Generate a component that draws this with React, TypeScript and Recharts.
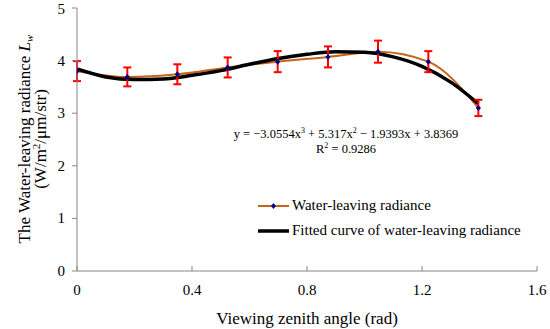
import React from 'react';
import {
  ComposedChart,
  Line,
  XAxis,
  YAxis,
  ErrorBar,
  Label,
} from 'recharts';

// viewing zenith angles (rad) and measured radiance
const angles = [0, 0.175, 0.349, 0.524, 0.698, 0.873, 1.047, 1.222, 1.396];
const radiance = [3.8, 3.69, 3.74, 3.87, 3.98, 4.07, 4.17, 3.98, 3.1];
const radianceErr = [0.19, 0.18, 0.19, 0.19, 0.2, 0.2, 0.21, 0.2, 0.155];

// fitted cubic curve
const fitAngles = [0, 0.1, 0.2, 0.3, 0.4, 0.5, 0.6, 0.7, 0.8, 0.9, 1.0, 1.1, 1.2, 1.3, 1.396];
const fitValues = [3.84, 3.69, 3.64, 3.65, 3.72, 3.81, 3.93, 4.04, 4.12, 4.17, 4.16, 4.07, 3.89, 3.59, 3.18];

const xTicks = [0, 0.4, 0.8, 1.2, 1.6];
const yTicks = [0, 1, 2, 3, 4, 5];

const measured = angles.map((a, i) => ({ x: a, y: radiance[i], err: radianceErr[i] }));
const fitted = fitAngles.map((a, i) => ({ x: a, fit: fitValues[i] }));

const FONT = 'Liberation Serif, serif';
const AXIS = '#868686';
const ORANGE = '#C8631A';

const Diamond = (props: any) => {
  const { cx, cy } = props;
  if (cx == null || cy == null) return null;
  return <path d={`M${cx},${cy - 3}L${cx + 2.6},${cy}L${cx},${cy + 3}L${cx - 2.6},${cy}Z`} fill="#00008B" />;
};

const XTick = (props: any) => {
  const { x, payload } = props;
  return (
    <text x={x} y={295} textAnchor="middle" fontFamily={FONT} fontSize={15} fill="#000">
      {String(payload.value)}
    </text>
  );
};

const YTick = (props: any) => {
  const { y, payload } = props;
  return (
    <text x={65} y={y + 5} textAnchor="end" fontFamily={FONT} fontSize={15} fill="#000">
      {String(payload.value)}
    </text>
  );
};

const YTitle = () => {
  const cy = 139;
  return (
    <g fontFamily={FONT} fontSize={17} fill="#000">
      <text x={30} y={cy} transform={`rotate(-90 30 ${cy})`} textAnchor="middle">
        The Water-leaving radiance <tspan fontStyle="italic">L</tspan>
        <tspan fontStyle="italic" fontSize={11} dy={3}>w</tspan>
      </text>
      <text x={46} y={cy} transform={`rotate(-90 46 ${cy})`} textAnchor="middle">
        (W/m<tspan fontSize={11} dy={-6}>2</tspan>
        <tspan dy={6}>/μm/str)</tspan>
      </text>
    </g>
  );
};

const XTitle = () => (
  <text x={307} y={324} textAnchor="middle" fontFamily={FONT} fontSize={17} fill="#000">
    Viewing zenith angle (rad)
  </text>
);

const sup = { fontSize: 8, lineHeight: 0, verticalAlign: 'super' as const };

export default function App() {
  return (
    <div style={{ position: 'absolute', left: 0, top: 0, width: 550, height: 329, background: '#fff', fontFamily: FONT }}>
      <ComposedChart
        width={550}
        height={329}
        margin={{ top: 8, right: 13, left: 0, bottom: 0 }}
      >
        <XAxis
          type="number"
          dataKey="x"
          domain={[0, 1.6]}
          ticks={xTicks}
          allowDataOverflow
          height={58}
          stroke={AXIS}
          tickSize={-5}
          tick={<XTick />}
        >
          <Label content={<XTitle />} />
        </XAxis>
        <YAxis
          type="number"
          domain={[0, 5]}
          ticks={yTicks}
          width={77}
          stroke={AXIS}
          tickSize={5}
          tick={<YTick />}
        >
          <Label content={<YTitle />} />
        </YAxis>
        <Line
          data={measured}
          dataKey="y"
          type="monotone"
          stroke={ORANGE}
          strokeWidth={2}
          dot={false}
          activeDot={false}
          isAnimationActive={false}
        />
        <Line
          data={fitted}
          dataKey="fit"
          type="monotone"
          stroke="#000"
          strokeWidth={3.5}
          dot={false}
          activeDot={false}
          isAnimationActive={false}
        />
        <Line
          data={measured}
          dataKey="y"
          stroke="none"
          dot={<Diamond />}
          activeDot={false}
          isAnimationActive={false}
        >
          <ErrorBar dataKey="err" direction="y" width={4} stroke="#FF0000" strokeWidth={2} />
        </Line>
      </ComposedChart>

      <div
        style={{
          position: 'absolute',
          left: 0,
          top: 127,
          width: 692,
          textAlign: 'center',
          fontSize: 12.5,
          lineHeight: '15px',
          color: '#000',
        }}
      >
        <div>
          y = −3.0554x<span style={sup}>3</span> + 5.317x<span style={sup}>2</span> − 1.9393x + 3.8369
        </div>
        <div>
          R<span style={sup}>2</span> = 0.9286
        </div>
      </div>

      <div style={{ position: 'absolute', left: 258, top: 193, fontSize: 15, color: '#000' }}>
        <div style={{ display: 'flex', alignItems: 'center', height: 25 }}>
          <svg width={31} height={10} style={{ marginRight: 3 }}>
            <line x1={0} y1={5} x2={31} y2={5} stroke={ORANGE} strokeWidth={2} />
            <path d="M15.5,2L18,5L15.5,8L13,5Z" fill="#00008B" />
          </svg>
          Water-leaving radiance
        </div>
        <div style={{ display: 'flex', alignItems: 'center', height: 25 }}>
          <svg width={31} height={10} style={{ marginRight: 3 }}>
            <line x1={0} y1={5} x2={31} y2={5} stroke="#000" strokeWidth={3.5} />
          </svg>
          Fitted curve of water-leaving radiance
        </div>
      </div>
    </div>
  );
}
